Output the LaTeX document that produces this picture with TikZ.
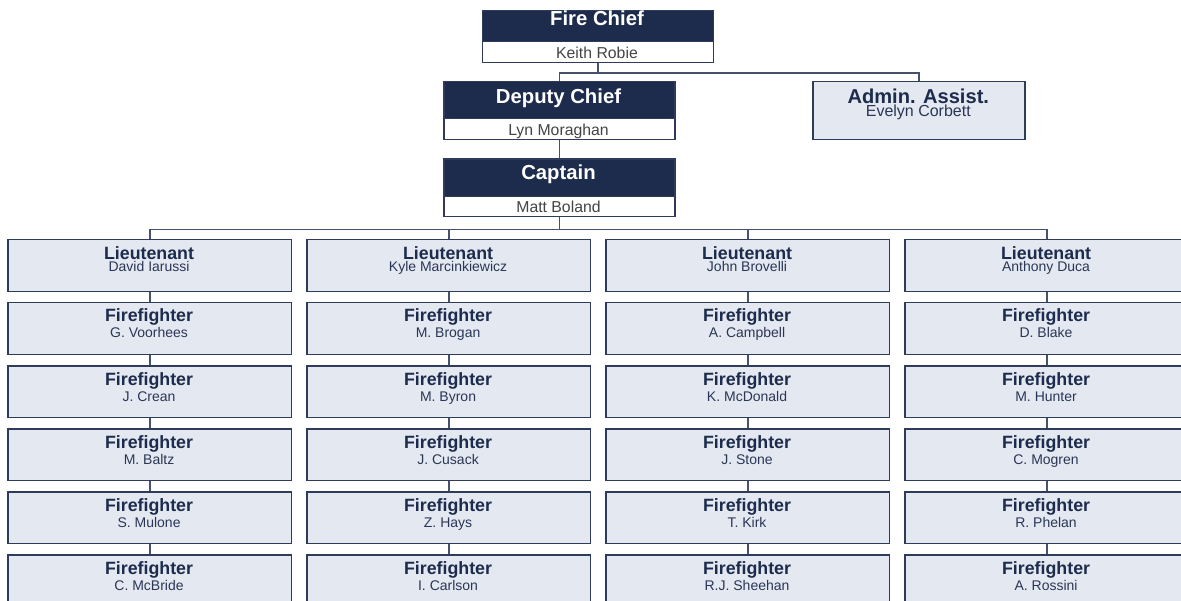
\documentclass[tikz,border=0pt]{standalone}
\usepackage{fontspec}
\setmainfont{Liberation Sans}
\definecolor{navy}{HTML}{1D2B4C}
\definecolor{boxfill}{HTML}{E4E9F1}
\definecolor{edgec}{HTML}{2E3B5A}
\definecolor{wire}{HTML}{465170}
\definecolor{subtext}{HTML}{444444}
\definecolor{nametext}{HTML}{2A3655}
\begin{document}
\begin{tikzpicture}[x=1bp,y=-1bp,
  lbox/.style={draw=edgec, fill=boxfill, line width=1.5bp, minimum width=283.5bp, minimum height=51.5bp, inner sep=0pt, anchor=north west},
  head/.style={draw=edgec, fill=navy, line width=1.5bp, minimum width=231bp, inner sep=0pt, anchor=north west},
  namebox/.style={draw=edgec, fill=white, line width=1.5bp, minimum width=231bp, inner sep=0pt, anchor=north west},
  headtxt/.style={anchor=base, inner sep=0pt, text=white, font=\fontsize{20.3bp}{22bp}\selectfont\bfseries},
  headname/.style={anchor=base, inner sep=0pt, text=subtext, font=\fontsize{15.8bp}{18bp}\selectfont},
  ttl/.style={anchor=base, inner sep=0pt, text=navy, font=\fontsize{17.8bp}{20bp}\selectfont\bfseries},
  nm/.style={anchor=base, inner sep=0pt, text=nametext, font=\fontsize{14bp}{16bp}\selectfont},
  conn/.style={draw=wire, line width=1.5bp}
]
\useasboundingbox (0,0) rectangle (1181,601);
\fill[white] (0,0) rectangle (1181,601);
\clip (0,0) rectangle (1181,601);

% Fire Chief
\node[head, minimum height=31bp] (fch) at (481.5,10) {};
\node[namebox, minimum height=21bp] (fcw) at (481.5,41) {};
\node[headtxt] (fct) at (597,26) {Fire Chief};
\node[headname] (fcn) at (597,58.7) {Keith Robie};

% Deputy Chief
\node[head, minimum height=37bp] (dch) at (443,81) {};
\node[namebox, minimum height=21bp] (dcw) at (443,118) {};
\node[headtxt] (dct) at (558.5,103.3) {Deputy Chief};
\node[headname] (dcn) at (558.5,136) {Lyn Moraghan};

% Captain
\node[head, minimum height=37.4bp] (cph) at (443,158.3) {};
\node[namebox, minimum height=20.3bp] (cpw) at (443,195.7) {};
\node[headtxt] (cpt) at (558.5,180) {Captain};
\node[headname] (cpn) at (558.5,212.7) {Matt Boland};

% Admin
\node[draw=edgec, fill=boxfill, line width=1.5bp, minimum width=212bp, minimum height=58bp, inner sep=0pt, anchor=north west] (adm) at (812.3,81) {};
\node[anchor=base, inner sep=0pt, text=navy, font=\fontsize{20.1bp}{22bp}\selectfont\bfseries] (admt) at (918.3,103.3) {Admin. Assist.};
\node[anchor=base, inner sep=0pt, text=nametext, font=\fontsize{16bp}{18bp}\selectfont] (admn) at (918.3,116.5) {Evelyn Corbett};

% top connectors
\draw[conn] (fcw.south) -- ++(0,9.5) coordinate (j1);
\draw[conn] (dch.north) |- (j1);
\draw[conn] (adm.north) |- (j1);
\draw[conn] (dcw.south) -- (cph.north);
\draw[conn] (cpw.south) -- ++(0,12) coordinate (j2);

% columns
\foreach \c/\lt/\fa/\fb/\fc/\fd/\fe in {
  0/David Iarussi/G. Voorhees/J. Crean/M. Baltz/S. Mulone/C. McBride,
  1/Kyle Marcinkiewicz/M. Brogan/M. Byron/J. Cusack/Z. Hays/I. Carlson,
  2/John Brovelli/A. Campbell/K. McDonald/J. Stone/T. Kirk/R.J. Sheehan,
  3/Anthony Duca/D. Blake/M. Hunter/C. Mogren/R. Phelan/A. Rossini}{
  \pgfmathsetmacro{\xl}{7.3+299*\c}
  \pgfmathsetmacro{\xc}{\xl+141.75}
  \node[lbox] (b\c-0) at (\xl,239) {};
  \node[ttl] (t\c-0) at (\xc,259.3) {Lieutenant};
  \node[nm] (n\c-0) at (\xc,271.5) {\lt};
  \draw[conn] (b\c-0.north) |- (j2);
  \foreach \r/\who in {1/\fa,2/\fb,3/\fc,4/\fd,5/\fe}{
    \pgfmathsetmacro{\yt}{239+63*\r}
    \pgfmathtruncatemacro{\rp}{\r-1}
    \node[lbox] (b\c-\r) at (\xl,\yt) {};
    \node[ttl] (t\c-\r) at (\xc,\yt+20) {Firefighter};
    \node[nm] (n\c-\r) at (\xc,\yt+36) {\who};
    \draw[conn] (b\c-\rp.south) -- (b\c-\r.north);
  }
}
\end{tikzpicture}
\end{document}
